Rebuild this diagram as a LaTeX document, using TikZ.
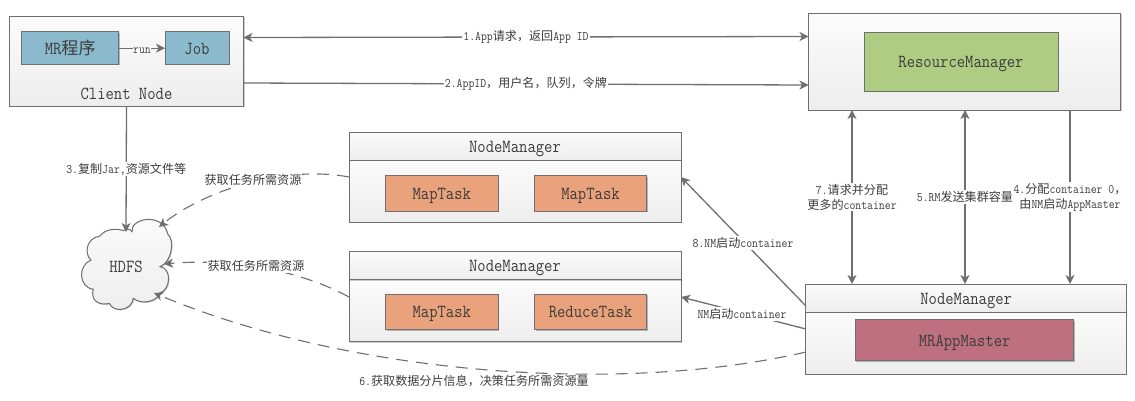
\documentclass[tikz,border=0pt]{standalone}
\usepackage{fontspec}
\setmonofont{Latin Modern Mono}[FakeStretch=0.88]
\newfontfamily\cjkf{Noto Sans CJK SC}[Scale=0.93]
\newcommand{\Zh}[1]{{\cjkf #1}}
\usetikzlibrary{arrows.meta,shadows}
\definecolor{ln}{HTML}{6F6F6F}
\definecolor{tx}{HTML}{3C3C3C}
\tikzset{
  x=1pt,y=-1pt,
  every node/.style={font=\ttfamily,text=tx,inner sep=0pt,outer sep=0pt},
  big/.style={font=\ttfamily\fontsize{18.4}{20}\selectfont,text height=12pt,text depth=0pt},
  small/.style={font=\ttfamily\fontsize{13}{15}\selectfont,align=center},
  lab/.style={small,fill=white,inner sep=1pt},
  panel/.style={draw=ln,line width=1pt,top color=white!97!gray,bottom color=black!7,drop shadow={shadow xshift=1pt,shadow yshift=-1pt,opacity=.2,fill=black},big,rectangle},
  inner/.style={draw=ln,line width=1pt,drop shadow={shadow xshift=1pt,shadow yshift=-1pt,opacity=.25,fill=black},big,rectangle},
  conn/.style={draw=ln,line width=1.3pt},
  tip/.style={-{Stealth[inset=2.5pt,length=9pt,width=9pt]}},
  tips/.style={{Stealth[inset=2.5pt,length=9pt,width=9pt]}-{Stealth[inset=2.5pt,length=9pt,width=9pt]}},
  dashconn/.style={conn,line width=1.1pt,dash pattern=on 12pt off 8pt},
  bluebox/.style={inner,fill={rgb,255:red,138;green,186;blue,204}},
  greenbox/.style={inner,fill={rgb,255:red,175;green,205;blue,130}},
  orangebox/.style={inner,fill={rgb,255:red,233;green,162;blue,123}},
  rosebox/.style={inner,fill={rgb,255:red,190;green,112;blue,128}},
}
\begin{document}
\begin{tikzpicture}
\useasboundingbox (0,0) rectangle (1135,400);
% client
\node[panel,minimum width=234pt,minimum height=90pt] (client) at (126.5,61) {};
\node[bluebox,minimum width=97.5pt,minimum height=32.5pt] (mr) at (70.2,48.2) {MR\Zh{程序}};
\node[bluebox,minimum width=64pt,minimum height=32.5pt] (job) at (197,48.2) {Job};
\node[big] (clientlab) at (126.5,93) {Client Node};
% resource manager
\node[panel,minimum width=312pt,minimum height=97pt] (rm) at (964.5,61.5) {};
\node[greenbox,minimum width=194pt,minimum height=59pt] (rmin) at (961,61.5) {ResourceManager};
% node managers
\node[panel,minimum width=332pt,minimum height=62pt] (nmA) at (515,191) {};
\node[panel,minimum width=332pt,minimum height=28pt] (nmAh) at (515,146) {NodeManager};
\node[orangebox,minimum width=112.5pt,minimum height=35.5pt] (mA) at (441.8,193.3) {MapTask};
\node[orangebox,minimum width=112pt,minimum height=35.5pt] (mB) at (590.5,193.3) {MapTask};
\node[panel,minimum width=332pt,minimum height=62pt] (nmB) at (515,310.5) {};
\node[panel,minimum width=332pt,minimum height=28.5pt] (nmBh) at (515,265.3) {NodeManager};
\node[orangebox,minimum width=112.5pt,minimum height=35.5pt] (mC) at (441.8,311.8) {MapTask};
\node[orangebox,minimum width=112pt,minimum height=35.5pt] (rC) at (590.5,311.8) {ReduceTask};
\node[panel,minimum width=320.5pt,minimum height=62.5pt] (nmC) at (966.2,343.2) {};
\node[panel,minimum width=320.5pt,minimum height=28pt] (nmCh) at (966.2,298) {NodeManager};
\node[rosebox,minimum width=218.5pt,minimum height=41pt] (am) at (964.7,340) {MRAppMaster};
% cloud
\filldraw[panel] (132,231.7)
  .. controls (130,218) and (163,212) .. (167.7,234)
  .. controls (175,240) and (172,262) .. (160,266.7)
  .. controls (172,268) and (171,290) .. (159.3,293.3)
  .. controls (157,302) and (141,305) .. (133.3,298.3)
  .. controls (132,311) and (113,313) .. (109.3,303.3)
  .. controls (100,306) and (90,301) .. (93.3,289.3)
  .. controls (78,287) and (78,265) .. (91,260)
  .. controls (84,254) and (86,238) .. (100,236)
  .. controls (105,229) and (116,228) .. (123.3,230.7)
  .. controls (126,228.5) and (130,228.5) .. cycle;
\node[big] (hdfs) at (126,266) {HDFS};
% named ends
\coordinate (c1) at (client.east |- 0,37.5);
\coordinate (r1) at (rm.west |- 0,36.5);
\coordinate (c2) at (client.east |- 0,83);
\coordinate (r2) at (rm.west |- 0,85);
\coordinate (hTop) at (126,232);
\coordinate (hA) at (159,227);
\coordinate (hB) at (164,264);
\coordinate (hC) at (154,293);
\coordinate (nA) at (nmA.west |- 0,177);
\coordinate (nB) at (nmB.west |- 0,297);
\coordinate (nC) at (nmC.west |- 0,352);
\coordinate (eA) at (nmA.east |- 0,177);
\coordinate (eB) at (nmB.east |- 0,297);
\coordinate (sA) at (nmC.west |- 0,306);
\coordinate (sB) at (nmC.west |- 0,329);
\coordinate (v1t) at (852,110);
\coordinate (v1b) at (852,284);
\coordinate (v2t) at (965,110);
\coordinate (v2b) at (965,284);
\coordinate (v3t) at (1070,110);
\coordinate (v3b) at (1070,284);
% connectors
\draw[conn,tips] (c1) -- node[lab] (t1) {1.App\Zh{请求，返回}App ID} (r1);
\draw[conn,tip] (c2) -- node[lab] (t2) {2.AppID\Zh{，用户名，队列，令牌}} (r2);
\draw[conn,line width=1pt,tip] (mr.east) -- node[small,fill=white,pos=.5,yshift=-2pt] (trun) {run} (mr.east -| job.west);
\draw[conn,tip] (client.south) -- node[lab,pos=.5] (t3) {3.\Zh{复制}Jar,\Zh{资源文件等}} (hTop);
\draw[dashconn,tip] (nA) .. controls (285,165) and (205,190) .. (hA);
\node[lab] (g1) at (253,180) {\Zh{获取任务所需资源}};
\draw[dashconn,tip] (nB) .. controls (300,270) and (230,258) .. (hB);
\node[lab] (g2) at (256,266) {\Zh{获取任务所需资源}};
\draw[dashconn,tip] (nC) .. controls (620,395) and (350,375) .. (hC);
\node[small] (t6) at (474,381) {6.\Zh{获取数据分片信息，决策任务所需资源量}};
\draw[conn,tip] (sA) -- (eA);
\node[lab] (t8) at (743,243) {8.NM\Zh{启动}container};
\draw[conn,tip] (sB) -- (eB);
\node[lab] (tn) at (742,314) {NM\Zh{启动}container};
\draw[conn,tips] (v1t) -- node[lab] (t7) {7.\Zh{请求并分配}\\\Zh{更多的}container} (v1b);
\draw[conn,tips] (v2t) -- node[lab] (t5) {5.RM\Zh{发送集群容量}} (v2b);
\draw[conn,tip] (v3t) -- node[lab] (t4) {4.\Zh{分配}container 0\Zh{，}\\\Zh{由}NM\Zh{启动}AppMaster} (v3b);
\end{tikzpicture}
\end{document}
